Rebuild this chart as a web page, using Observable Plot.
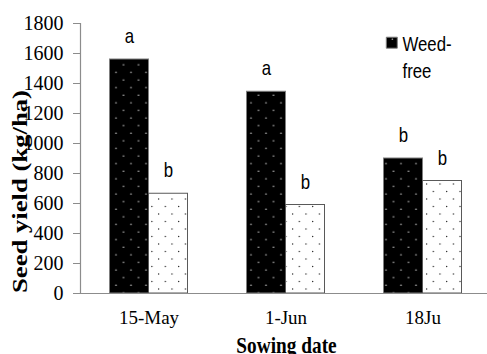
<!DOCTYPE html>
<html>
<head>
<meta charset="utf-8">
<script src="https://cdn.jsdelivr.net/npm/d3@7"></script>
<script src="https://cdn.jsdelivr.net/npm/@observablehq/plot@0.6"></script>
<style>
  html, body { margin: 0; padding: 0; background: #fff; }
</style>
</head>
<body>
<div id="chart"></div>
<script>
const dates = ["15-May", "1-Jun", "18Ju"];
const seriesNames = ["Weed-free", "Weedy"];
const weedFree = [1560, 1345, 900];
const weedy = [665, 590, 750];
const lettersWeedFree = ["a", "a", "b"];
const lettersWeedy = ["b", "b", "b"];
const yTicks = [0, 200, 400, 600, 800, 1000, 1200, 1400, 1600, 1800];

const wf = dates.map((d, i) => ({date: d, series: seriesNames[0], value: weedFree[i], letter: lettersWeedFree[i]}));
const wd = dates.map((d, i) => ({date: d, series: seriesNames[1], value: weedy[i], letter: lettersWeedy[i]}));

const serif = "'Liberation Serif', 'Times New Roman', serif";
const sans = "'Liberation Sans', Arial, sans-serif";
const narrow = () => "narrow";
const ytitle = () => "ytitle";

const chart = Plot.plot({
  width: 487,
  height: 354,
  marginLeft: 80,
  marginRight: 0,
  marginTop: 23,
  marginBottom: 61,
  style: {fontFamily: serif, fontSize: "19px", background: "#fff", color: "#000"},
  x: {domain: dates, range: [80.5, 491.5], paddingInner: 0.715, paddingOuter: 0.3575, label: null},
  y: {domain: [0, 1800], label: null},
  marks: [
    Plot.barY(wf, {x: "date", y: "value", dx: -19.5, fill: "url(#patBlack)", stroke: "#7f7f7f", strokeWidth: 1}),
    Plot.barY(wd, {x: "date", y: "value", dx: 19.5, fill: "url(#patWhite)", stroke: "#595959", strokeWidth: 1}),
    Plot.ruleY([0], {stroke: "#8c8c8c", strokeWidth: 1.2}),
    Plot.frame({anchor: "left", stroke: "#8c8c8c", strokeWidth: 1.2}),
    Plot.axisY({ticks: yTicks, tickFormat: (d) => String(d), tickSize: 7, tickPadding: 10, stroke: "#8c8c8c", fill: "#000", fontFamily: serif, fontSize: 20, label: null}),
    Plot.axisX({tickSize: 0, tickPadding: 17, fontFamily: serif, fontSize: 19, label: null}),
    Plot.text(wf, {x: "date", y: "value", text: "letter", dx: -19.5, dy: -16.5, lineAnchor: "bottom", fontFamily: sans, fontSize: 20, fill: "#000", ariaLabel: narrow}),
    Plot.text(wd, {x: "date", y: "value", text: "letter", dx: 19.5, dy: -16.5, lineAnchor: "bottom", fontFamily: sans, fontSize: 20, fill: "#000", ariaLabel: narrow}),
    Plot.text(["Sowing date"], {frameAnchor: "bottom", dx: 2.5, dy: 59, textAnchor: "middle", lineAnchor: "bottom", fontFamily: serif, fontWeight: "bold", fontSize: 23, fill: "#000", ariaLabel: narrow}),
    Plot.text(["Seed yield (kg/ha)"], {frameAnchor: "left", dx: -60, dy: 33, rotate: -90, textAnchor: "middle", lineAnchor: "middle", fontFamily: serif, fontWeight: "bold", fontSize: 20, fill: "#000", ariaLabel: ytitle}),
    Plot.dot([seriesNames[0]], {frameAnchor: "top-right", dx: -95.7, dy: 19.2, symbol: "square", r: 6.2, fill: "url(#patBlack)", stroke: "#7f7f7f", strokeWidth: 1}),
    Plot.text([seriesNames[0].replace("-", "-\n")], {frameAnchor: "top-right", dx: -85, dy: 9, textAnchor: "start", lineAnchor: "top", lineHeight: 1.33, fontFamily: sans, fontSize: 20, fill: "#000", ariaLabel: narrow})
  ]
});

// compress glyphs (text styling only, positions stay from the scales)
function squeeze(sel, sx, sy) {
  d3.select(chart).selectAll(sel).each(function () {
    const t = this.getAttribute("transform") || "";
    const x = +(this.getAttribute("x") || 0);
    const y = +(this.getAttribute("y") || 0);
    this.removeAttribute("x");
    this.removeAttribute("y");
    this.setAttribute("transform", `${t} translate(${x},${y}) scale(${sx},${sy})`);
  });
}
squeeze('text[aria-label="narrow"]', 0.84, 1);
d3.select(chart).selectAll('text[aria-label="ytitle"]')
  .attr("textLength", 203).attr("lengthAdjust", "spacingAndGlyphs");

const svg = d3.select(chart);
const defs = svg.insert("defs", ":first-child");
const pb = defs.append("pattern").attr("id", "patBlack").attr("patternUnits", "userSpaceOnUse")
  .attr("x", 110).attr("y", 0).attr("width", 15).attr("height", 15.2);
pb.append("rect").attr("width", 15).attr("height", 15.2).attr("fill", "#000");
pb.append("circle").attr("cx", 3).attr("cy", 4).attr("r", 0.75).attr("fill", "#ddd");
pb.append("circle").attr("cx", 10.5).attr("cy", 11.6).attr("r", 0.75).attr("fill", "#ddd");
const pw = defs.append("pattern").attr("id", "patWhite").attr("patternUnits", "userSpaceOnUse")
  .attr("x", 149).attr("y", 0).attr("width", 13.4).attr("height", 15);
pw.append("rect").attr("width", 13.4).attr("height", 15).attr("fill", "#fff");
pw.append("circle").attr("cx", 3.5).attr("cy", 4).attr("r", 0.7).attr("fill", "#222");
pw.append("circle").attr("cx", 10.2).attr("cy", 11.5).attr("r", 0.7).attr("fill", "#222");

document.getElementById("chart").appendChild(chart);
</script>
</body>
</html>
